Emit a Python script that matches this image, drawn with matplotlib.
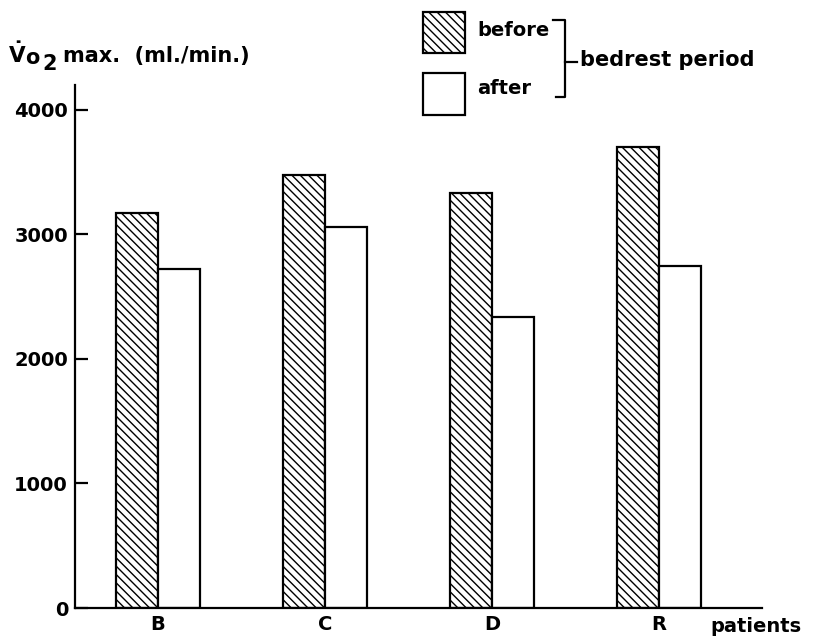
import numpy as np
import matplotlib.pyplot as plt

# VO2 max before / after bedrest period
patients = ['B', 'C', 'D', 'R']
before = [3170, 3480, 3330, 3700]
after = [2720, 3060, 2340, 2750]
yticks = [0, 1000, 2000, 3000, 4000]

plt.rcParams['font.family'] = 'DejaVu Sans'
plt.rcParams['font.weight'] = 'bold'
plt.rcParams['hatch.linewidth'] = 1.0
plt.rcParams['mathtext.fontset'] = 'dejavusans'

W, H = 815, 637
fig = plt.figure(figsize=(W / 100, H / 100), dpi=100)
fig.patch.set_facecolor('white')


def fx(px):
    return px / W


def fy(py):
    return 1 - py / H


ax = fig.add_axes([fx(75), fy(608), fx(762) - fx(75), fy(85) - fy(608)])

x = np.arange(len(patients))
w = 0.25
hatch = '\\\\\\\\'
ax.bar(x - w / 2, before, w, facecolor='white', edgecolor='black',
       linewidth=1.6, hatch=hatch)
ax.bar(x + w / 2, after, w, facecolor='white', edgecolor='black',
       linewidth=1.6)

ax.set_xlim(-0.497, 3.617)
ax.set_ylim(0, 4200)

ax.spines['top'].set_visible(False)
ax.spines['right'].set_visible(False)
ax.spines['left'].set_linewidth(1.6)
ax.spines['bottom'].set_linewidth(1.6)

ax.set_yticks(yticks)
ax.set_yticklabels([str(v) for v in yticks], fontsize=14, fontweight='bold')
ax.tick_params(axis='y', direction='in', length=9, width=1.6, pad=5)
ax.set_xticks(x)
ax.set_xticklabels(patients, fontsize=14, fontweight='bold')
ax.tick_params(axis='x', length=0, pad=5)

fig.text(fx(710), fy(626), 'patients', fontsize=14, fontweight='bold',
         va='center', ha='left')

# y axis title
fig.text(fx(8), fy(54), r'$\dot{\mathbf{V}}$', fontsize=15.5, va='center', ha='left')
fig.text(fx(25), fy(58), 'o', fontsize=15, fontweight='bold', va='center', ha='left')
fig.text(fx(42), fy(64), '2', fontsize=15, fontweight='bold', va='center', ha='left')
fig.text(fx(63), fy(56), 'max.  (ml./min.)', fontsize=15, fontweight='bold',
         va='center', ha='left')

# legend boxes
lax = fig.add_axes([0, 0, 1, 1], facecolor='none')
lax.set_xlim(0, W)
lax.set_ylim(H, 0)
lax.axis('off')
lax.add_patch(plt.Rectangle((423, 12), 42, 41, facecolor='white',
                            edgecolor='black', linewidth=1.6, hatch=hatch))
lax.add_patch(plt.Rectangle((423, 73), 42, 42, facecolor='white',
                            edgecolor='black', linewidth=1.6))
lax.text(477, 31, 'before', fontsize=14, fontweight='bold', va='center', ha='left')
lax.text(477, 89, 'after', fontsize=14, fontweight='bold', va='center', ha='left')

# bracket
lax.plot([553, 565, 565, 556], [20, 20, 97, 97], color='black', linewidth=1.6)
lax.plot([565, 577], [62, 62], color='black', linewidth=1.6)
lax.text(580, 60, 'bedrest period', fontsize=15, fontweight='bold',
         va='center', ha='left')

fig.savefig('out.png', dpi=100, facecolor='white')
